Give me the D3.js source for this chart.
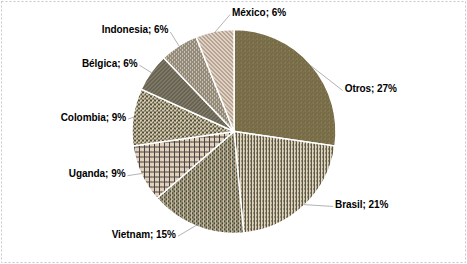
<!DOCTYPE html>
<html><head><meta charset="utf-8">
<script src="https://cdn.jsdelivr.net/npm/d3@7"></script>
<style>html,body{margin:0;padding:0;background:#fff;}svg{display:block;}</style>
</head><body>
<div id="chart"></div>
<script>
const categories = ["Otros", "Brasil", "Vietnam", "Uganda", "Colombia", "Bélgica", "Indonesia", "México"];
const values = [27, 21, 15, 9, 9, 6, 6, 6];
const labels = ["Otros; 27%", "Brasil; 21%", "Vietnam; 15%", "Uganda; 9%", "Colombia; 9%", "Bélgica; 6%", "Indonesia; 6%", "México; 6%"];

// layout (not data): label nudges from the default polar label point
const labelNudge = [[21, 35], [19, -9], [-13, -3], [-1, -4], [9, 4], [0, 1], [-1, -2], [18, -3]];
const labelSide = ["start", "start", "end", "end", "end", "end", "end", "start"];

const W = 467, H = 264;
const cx = 234, cy = 131.5, R = 102, RL = 116;

const svg = d3.select("#chart").append("svg").attr("width", W).attr("height", H);
const defs = svg.append("defs");

function pixPattern(id, rows, palette) {
  const h = rows.length, w = rows[0].length;
  const p = defs.append("pattern").attr("id", id).attr("patternUnits", "userSpaceOnUse")
    .attr("width", w).attr("height", h);
  rows.forEach((row, y) => {
    [...row].forEach((ch, x) => {
      p.append("rect").attr("x", x).attr("y", y).attr("width", 1).attr("height", 1)
        .attr("fill", palette[ch]).attr("shape-rendering", "crispEdges");
    });
  });
}

pixPattern("p0", [
  "abac", "cada", "aCab", "dabc"
], {a:"#6a683a", b:"#967666", c:"#7c7e4c", d:"#8a6654", C:"#75754a"});

pixPattern("p1", [
  "lmd", "ldd", "nmd", "lmd"
], {l:"#e2d8bd", m:"#c4bd9e", n:"#e6c8c0", d:"#5c5849"});

pixPattern("p2", [
  "dlml", "lpdd", "mldl", "dgld"
], {d:"#45453a", l:"#cbc3a2", m:"#8a8568", p:"#d6aea6", g:"#a6b087"});

pixPattern("p3", [
  "ddddd", "dlplg", "dplgl", "dlglp", "dgpll"
], {d:"#4b4342", l:"#e7d8c4", p:"#e3bfb4", g:"#cfd3b0"});

pixPattern("p4", [
  "ddll", "ddlp", "llgd", "plda"
], {d:"#4f4d3c", l:"#d6cfae", p:"#d9b8ab", g:"#b8c094", a:"#6a6650"});

pixPattern("p5", [
  "dmdl", "mdld", "dldm", "ldmd"
], {d:"#4a473a", m:"#857e6a", l:"#b3aa91"});

pixPattern("p6", [
  "dlpl", "ldld", "pldl", "ldld"
], {d:"#57534a", l:"#cdc4ad", p:"#d7b7ae"});

pixPattern("p7", [
  "dlpl", "ldlp", "pldl", "lpld"
], {d:"#7b7266", l:"#e8dcc8", p:"#e0c2b8"});

const pie = d3.pie().sort(null).value(d => d);
const arcs = pie(values);
const arc = d3.arc().innerRadius(0).outerRadius(R);

const g = svg.append("g").attr("transform", `translate(${cx},${cy})`);

g.selectAll("path.slice").data(arcs).join("path")
  .attr("class", "slice")
  .attr("d", arc)
  .attr("fill", (d, i) => `url(#p${i})`)
  .attr("stroke", "#ffffff")
  .attr("stroke-width", 1.5);

const lg = g.append("g");
arcs.forEach((d, i) => {
  const a = (d.startAngle + d.endAngle) / 2;
  const sx = Math.sin(a), sy = -Math.cos(a);
  const p0 = [sx * (R - 1), sy * (R - 1)];
  const p1 = [sx * RL + labelNudge[i][0], sy * RL + labelNudge[i][1]];
  const start = labelSide[i] === "start";
  lg.append("line")
    .attr("x1", p0[0]).attr("y1", p0[1]).attr("x2", p1[0]).attr("y2", p1[1])
    .attr("stroke", "#a0a0a0").attr("stroke-width", 0.8);
  lg.append("text")
    .attr("x", p1[0] + (start ? 2 : -2))
    .attr("y", p1[1] - 2)
    .attr("dy", "0.35em")
    .attr("text-anchor", labelSide[i])
    .attr("font-family", "Liberation Sans, Arial, sans-serif")
    .attr("font-weight", "bold")
    .attr("font-size", 10)
    .attr("letter-spacing", -0.05)
    .attr("fill", "#000")
    .text(labels[i]);
});

svg.append("rect").attr("x", 1.5).attr("y", 1.5).attr("width", W - 3).attr("height", H - 3)
  .attr("fill", "none").attr("stroke", "#c8c8c8").attr("stroke-width", 1).attr("stroke-dasharray", "2,2");
</script>
</body></html>
